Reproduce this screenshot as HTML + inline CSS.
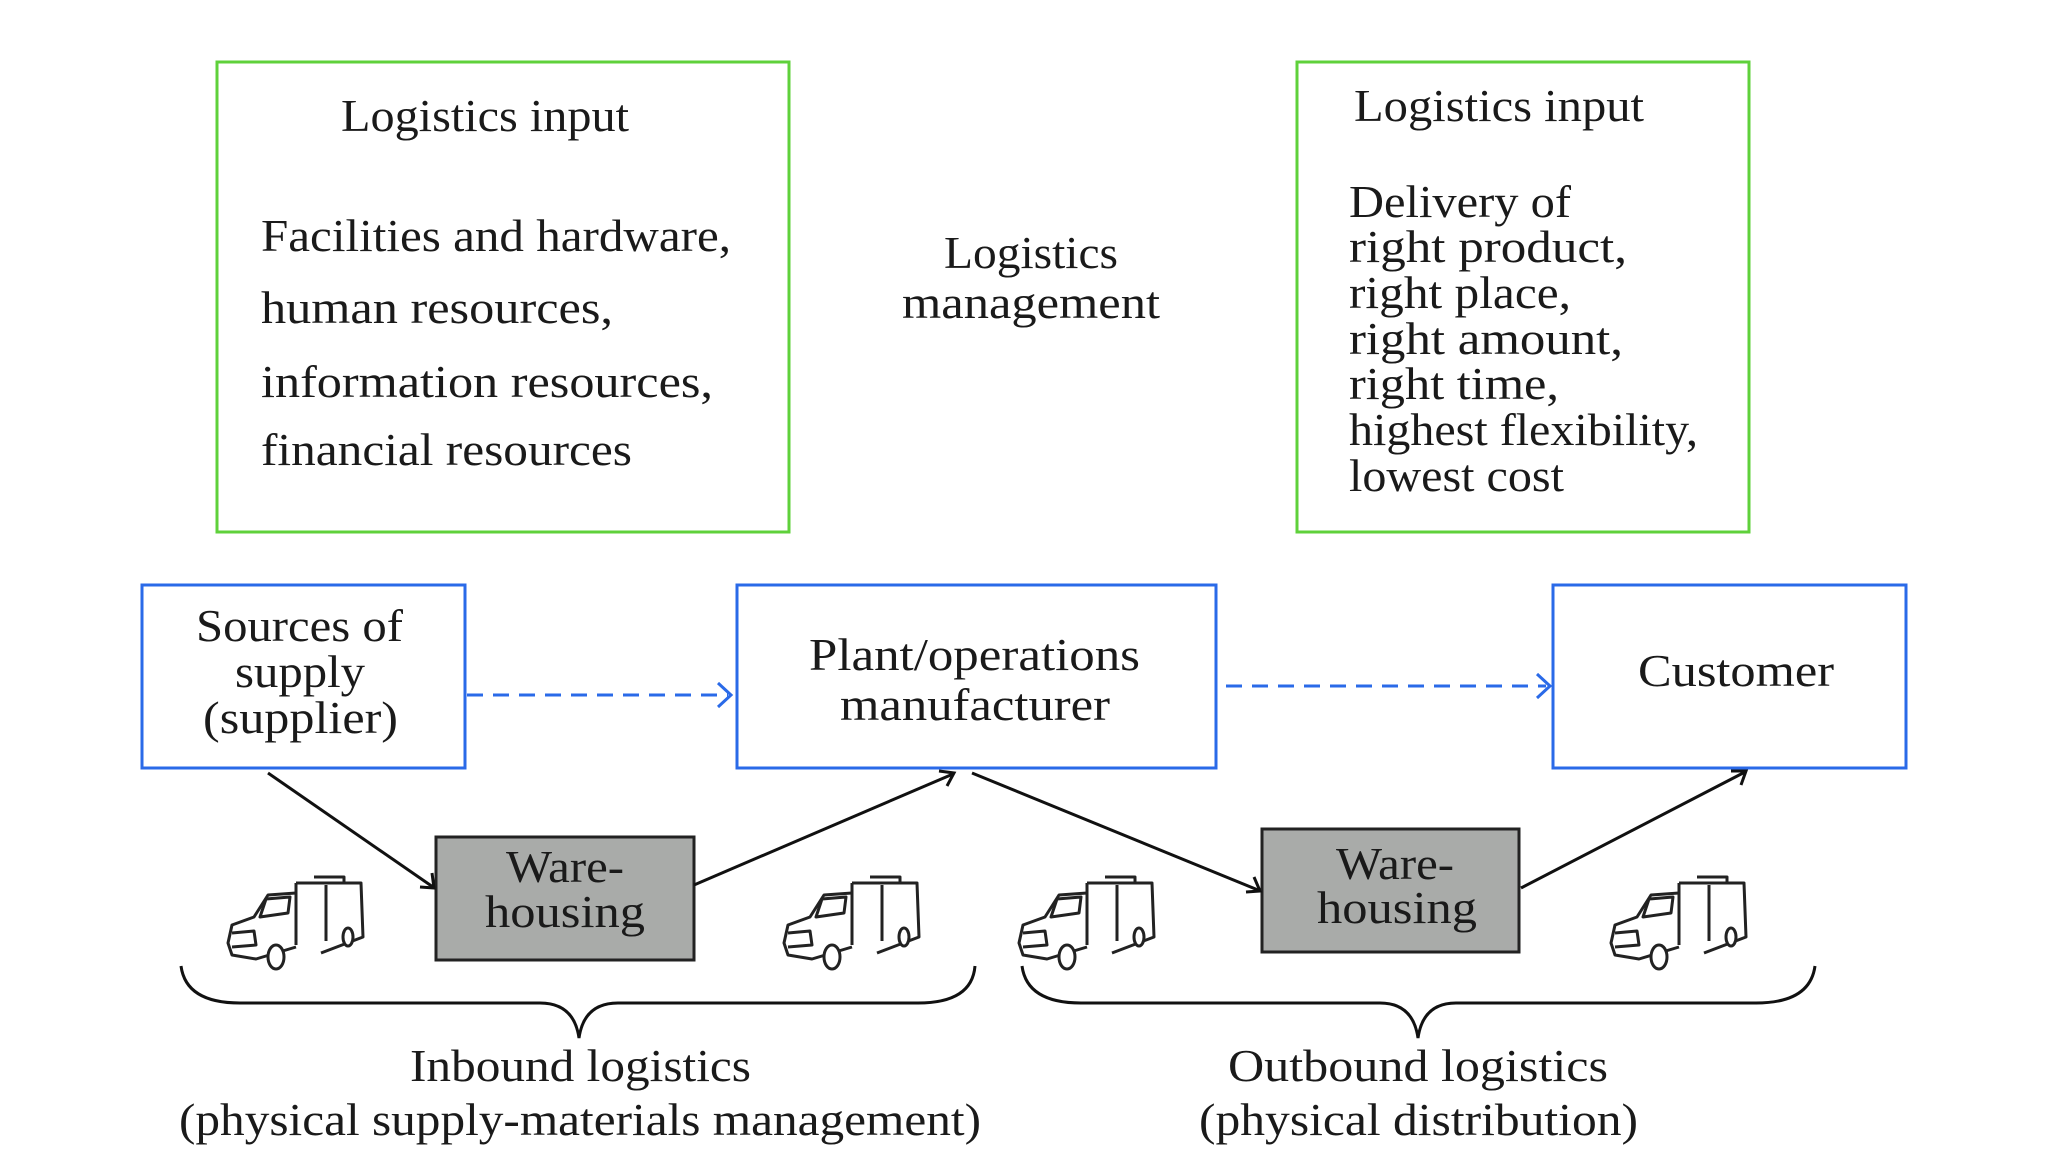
<!DOCTYPE html>
<html><head><meta charset="utf-8"><style>html,body{margin:0;padding:0;background:#fff}svg{display:block}</style></head>
<body>
<svg width="2048" height="1152" viewBox="0 0 2048 1152" xmlns="http://www.w3.org/2000/svg" font-family="Liberation Serif, serif" fill="#1a1a1a">
<defs>
<g id="truck" fill="none" stroke="#222" stroke-width="3" stroke-linejoin="round">
  <path d="M70 8 L135 8 L137 62 L95 78"/>
  <path d="M70 8 L70 70"/>
  <path d="M88 2 L118 2 L118 8"/>
  <path d="M70 18 L42 20 L28 42 L6 50 L2 68 L6 80 L30 84 L70 72"/>
  <path d="M40 24 L34 42 L62 38 L64 22 Z"/>
  <path d="M6 58 L28 56 L30 70 L6 72"/>
  <ellipse cx="50" cy="82" rx="8" ry="12" fill="#fff"/>
  <ellipse cx="122" cy="62" rx="5" ry="9" fill="#fff"/>
  <path d="M100 10 L100 66"/>
</g>
</defs>
<rect x="217" y="62" width="572" height="470" fill="none" stroke="#5fd13b" stroke-width="3"/>
<rect x="1297" y="62" width="452" height="470" fill="none" stroke="#5fd13b" stroke-width="3"/>
<g fill="none" stroke="#2a6ae8" stroke-width="3">
<rect x="142" y="585" width="323" height="183"/>
<rect x="737" y="585" width="479" height="183"/>
<rect x="1553" y="585" width="353" height="183"/>
</g>
<g stroke="#2a6ae8" stroke-width="3" fill="none">
<line x1="467" y1="695" x2="728" y2="695" stroke-dasharray="16,10"/>
<path d="M718 683 L731 695 L718 707"/>
<line x1="1226" y1="686" x2="1546" y2="686" stroke-dasharray="16,10"/>
<path d="M1537 674 L1550 686 L1537 698"/>
</g>
<rect x="436" y="837" width="258" height="123" fill="#a9aba9" stroke="#222" stroke-width="3"/>
<rect x="1262" y="829" width="257" height="123" fill="#a9aba9" stroke="#222" stroke-width="3"/>
<g stroke="#111" stroke-width="3" fill="none">
<line x1="268" y1="773" x2="433" y2="887"/>
<path d="M420 887 L434 888 L432 873"/>
<line x1="694" y1="885" x2="953" y2="774"/>
<path d="M939 771 L954 773 L947 786"/>
<line x1="972" y1="773" x2="1258" y2="890"/>
<path d="M1246 892 L1260 891 L1254 877"/>
<line x1="1521" y1="888" x2="1745" y2="772"/>
<path d="M1731 771 L1746 771 L1741 785"/>
</g>
<use href="#truck" transform="translate(226,875)"/>
<use href="#truck" transform="translate(782,875)"/>
<use href="#truck" transform="translate(1017,875)"/>
<use href="#truck" transform="translate(1609,875)"/>
<g stroke="#111" stroke-width="3" fill="none">
<path d="M181 966 Q186 1003 240 1003 L540 1003 Q574 1003 579 1038 Q584 1003 618 1003 L918 1003 Q972 1003 975 966"/>
<path d="M1022 966 Q1027 1003 1081 1003 L1380 1003 Q1413 1003 1418 1038 Q1423 1003 1456 1003 L1756 1003 Q1810 1003 1815 966"/>
</g>
<g font-size="46">
<text x="341" y="131" textLength="288" lengthAdjust="spacingAndGlyphs">Logistics input</text>
<text x="261" y="251" textLength="470" lengthAdjust="spacingAndGlyphs">Facilities and hardware,</text>
<text x="261" y="323" textLength="352" lengthAdjust="spacingAndGlyphs">human resources,</text>
<text x="261" y="397" textLength="452" lengthAdjust="spacingAndGlyphs">information resources,</text>
<text x="261" y="465" textLength="371" lengthAdjust="spacingAndGlyphs">financial resources</text>
<text x="944" y="268" textLength="174" lengthAdjust="spacingAndGlyphs">Logistics</text>
<text x="902" y="318" textLength="258" lengthAdjust="spacingAndGlyphs">management</text>
<text x="1354" y="121" textLength="290" lengthAdjust="spacingAndGlyphs">Logistics input</text>
<text x="1349" y="217" textLength="222" lengthAdjust="spacingAndGlyphs">Delivery of</text>
<text x="1349" y="262" textLength="278" lengthAdjust="spacingAndGlyphs">right product,</text>
<text x="1349" y="308" textLength="222" lengthAdjust="spacingAndGlyphs">right place,</text>
<text x="1349" y="354" textLength="274" lengthAdjust="spacingAndGlyphs">right amount,</text>
<text x="1349" y="399" textLength="210" lengthAdjust="spacingAndGlyphs">right time,</text>
<text x="1349" y="445" textLength="349" lengthAdjust="spacingAndGlyphs">highest flexibility,</text>
<text x="1349" y="491" textLength="215" lengthAdjust="spacingAndGlyphs">lowest cost</text>
<text x="196" y="641" textLength="207" lengthAdjust="spacingAndGlyphs">Sources of</text>
<text x="235" y="687" textLength="130" lengthAdjust="spacingAndGlyphs">supply</text>
<text x="203" y="733" textLength="195" lengthAdjust="spacingAndGlyphs">(supplier)</text>
<text x="809" y="670" textLength="331" lengthAdjust="spacingAndGlyphs">Plant/operations</text>
<text x="840" y="720" textLength="270" lengthAdjust="spacingAndGlyphs">manufacturer</text>
<text x="1638" y="686" textLength="196" lengthAdjust="spacingAndGlyphs">Customer</text>
<text x="506" y="882" textLength="118" lengthAdjust="spacingAndGlyphs">Ware-</text>
<text x="485" y="927" textLength="160" lengthAdjust="spacingAndGlyphs">housing</text>
<text x="1336" y="879" textLength="118" lengthAdjust="spacingAndGlyphs">Ware-</text>
<text x="1317" y="923" textLength="160" lengthAdjust="spacingAndGlyphs">housing</text>
<text x="410" y="1081" textLength="341" lengthAdjust="spacingAndGlyphs">Inbound logistics</text>
<text x="179" y="1135" textLength="802" lengthAdjust="spacingAndGlyphs">(physical supply-materials management)</text>
<text x="1228" y="1081" textLength="380" lengthAdjust="spacingAndGlyphs">Outbound logistics</text>
<text x="1199" y="1135" textLength="439" lengthAdjust="spacingAndGlyphs">(physical distribution)</text>
</g>
</svg>
</body></html>
